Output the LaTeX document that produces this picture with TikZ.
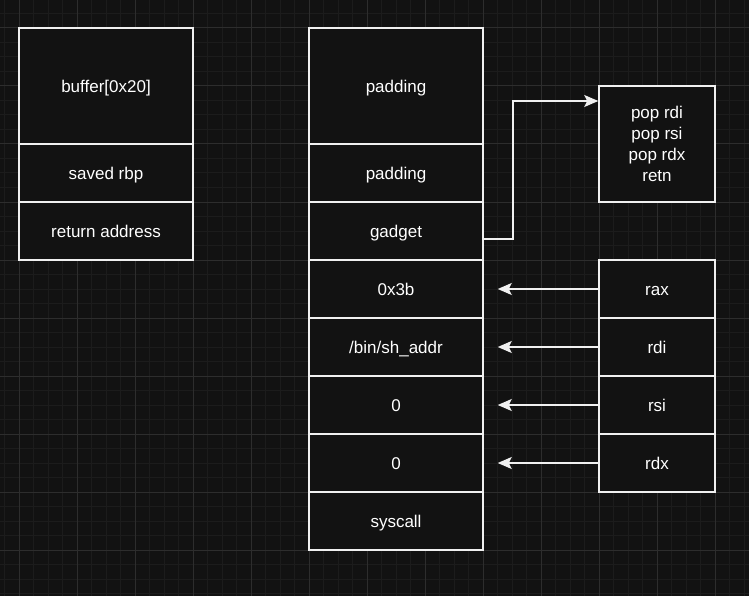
\documentclass[tikz,border=0pt]{standalone}
\usepackage{fontspec}
\setmainfont{Liberation Sans}
\usetikzlibrary{arrows.meta}
\definecolor{bg}{HTML}{121212}
\definecolor{gminor}{HTML}{1C1C1C}
\definecolor{gmajor}{HTML}{2D2D2D}
\definecolor{ln}{HTML}{F0F0F0}
\begin{document}
\begin{tikzpicture}[x=1pt,y=-1pt,
  cell/.style={draw=ln, line width=1.5pt, fill=bg, text=white,
    font=\fontsize{17}{21}\selectfont, inner sep=0pt, align=center},
  one/.style={cell, text height=13pt, text depth=0pt},
  conn/.style={draw=ln, line width=1.5pt, -{Stealth[length=14pt,width=12pt,inset=3pt]}}]
\useasboundingbox (0,0) rectangle (749,596);
\fill[bg] (0,0) rectangle (749,596);
% grid
\foreach \i in {-2,...,52} {
  \draw[gminor, line width=1pt] ({19+\i*14.5},0) -- ({19+\i*14.5},596);
}
\foreach \i in {-2,...,41} {
  \draw[gminor, line width=1pt] (0,{28+\i*14.5}) -- (749,{28+\i*14.5});
}
\foreach \i in {-1,...,13} {
  \draw[gmajor, line width=1pt] ({19+\i*58},0) -- ({19+\i*58},596);
}
\foreach \i in {-1,...,10} {
  \draw[gmajor, line width=1pt] (0,{28+\i*58}) -- (749,{28+\i*58});
}
% left stack
\node[one, minimum width=174pt, minimum height=116pt] (buf) at (106,86) {buffer[0x20]};
\node[one, minimum width=174pt, minimum height=58pt] (rbp) at (106,173) {saved rbp};
\node[one, minimum width=174pt, minimum height=58pt] (ret) at (106,231) {return address};
% middle stack
\node[one, minimum width=174pt, minimum height=116pt] (pad1) at (396,86) {padding};
\node[one, minimum width=174pt, minimum height=58pt] (pad2) at (396,173) {padding};
\node[one, minimum width=174pt, minimum height=58pt] (gadget) at (396,231) {gadget};
\node[one, minimum width=174pt, minimum height=58pt] (v3b) at (396,289) {0x3b};
\node[one, minimum width=174pt, minimum height=58pt] (binsh) at (396,347) {/bin/sh\_addr};
\node[one, minimum width=174pt, minimum height=58pt] (z1) at (396,405) {0};
\node[one, minimum width=174pt, minimum height=58pt] (z2) at (396,463) {0};
\node[one, minimum width=174pt, minimum height=58pt] (sys) at (396,521) {syscall};
% right
\node[cell, minimum width=116pt, minimum height=116pt] (pop) at (657,144) {pop rdi\\pop rsi\\pop rdx\\retn};
\node[one, minimum width=116pt, minimum height=58pt] (rax) at (657,289) {rax};
\node[one, minimum width=116pt, minimum height=58pt] (rdi) at (657,347) {rdi};
\node[one, minimum width=116pt, minimum height=58pt] (rsi) at (657,405) {rsi};
\node[one, minimum width=116pt, minimum height=58pt] (rdx) at (657,463) {rdx};
% connectors
\draw[conn] ([yshift=-8pt]gadget.east) -- ++(29,0) |- ([yshift=43pt]pop.west);
\draw[conn] (rax.west) -- ([xshift=14pt]v3b.east);
\draw[conn] (rdi.west) -- ([xshift=14pt]binsh.east);
\draw[conn] (rsi.west) -- ([xshift=14pt]z1.east);
\draw[conn] (rdx.west) -- ([xshift=14pt]z2.east);
\end{tikzpicture}
\end{document}
